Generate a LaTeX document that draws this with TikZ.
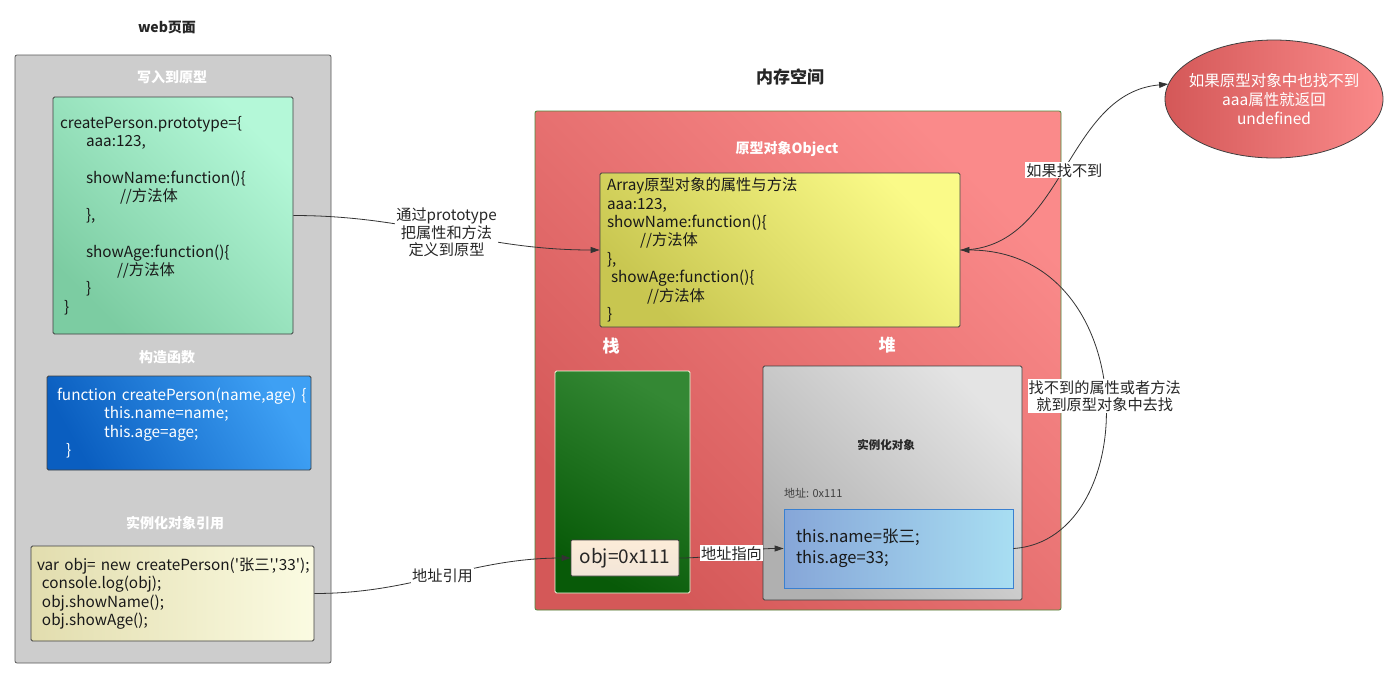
\documentclass[tikz,border=0pt]{standalone}
\usepackage{fontspec}
\setmainfont{Noto Sans CJK SC}[Ligatures=TeXOff]
\usetikzlibrary{arrows.meta,shapes.geometric}

\definecolor{panelgray}{HTML}{CDCDCD}
\definecolor{mintlight}{HTML}{B4F8D8}
\definecolor{mintdark}{HTML}{7CCCA2}
\definecolor{bluedark}{HTML}{0A5EC0}
\definecolor{bluelight}{HTML}{3EA0F4}
\definecolor{creamdark}{HTML}{E2DDAE}
\definecolor{creamlight}{HTML}{FBFBE2}
\definecolor{memdark}{HTML}{D45858}
\definecolor{memlight}{HTML}{FA8A8A}
\definecolor{memedge}{HTML}{4A8A3A}
\definecolor{yellowdark}{HTML}{C8C650}
\definecolor{yellowlight}{HTML}{FAFA88}
\definecolor{stackdark}{HTML}{085A08}
\definecolor{stacklight}{HTML}{348834}
\definecolor{heapdark}{HTML}{B0B0B0}
\definecolor{heaplight}{HTML}{E4E4E4}
\definecolor{instdark}{HTML}{86A6D8}
\definecolor{instlight}{HTML}{A8DEF2}
\definecolor{instedge}{HTML}{3A80D0}

\tikzset{
  panel/.style={draw=black!65, fill=panelgray, rounded corners=2pt, line width=0.8pt},
  codebox/.style={draw=black!75, rounded corners=1.5pt, line width=0.8pt, align=left,
    font=\fontsize{15.3}{18.4}\selectfont, inner ysep=0pt, text=black!90},
  heading/.style={font=\bfseries\fontsize{14}{16}\selectfont, text=white},
  lbl/.style={fill=white, inner sep=1pt, align=center, font=\fontsize{15.2}{17.5}\selectfont, text=black!85},
  conn/.style={draw=black!80, line width=0.8pt},
  arr/.style={conn, -{Triangle[length=9pt,width=6pt]}}
}

\begin{document}
\begin{tikzpicture}[x=1pt,y=-1pt]
  \useasboundingbox[fill=white] (0,0) rectangle (1400,678);

  % Web page panel
  \node[font=\bfseries\fontsize{14}{16}\selectfont, text=black!85] (webtitle) at (167,27) {web页面};
  \node[panel, minimum width=316, minimum height=608] (web) at (173,359) {};

  \node[heading] (protohead) at (172,77) {写入到原型};
  \node[codebox, top color=mintlight, bottom color=mintdark, shading angle=-45,
        minimum height=237, text width=226, inner xsep=7] (proto) at (173,215.5)
    {createPerson.prototype=\{\\
     \hspace*{26pt}aaa:123,\\[18.4pt]
     \hspace*{26pt}showName:function()\{\\
     \hspace*{60pt}//方法体\\
     \hspace*{26pt}\},\\[18.4pt]
     \hspace*{26pt}showAge:function()\{\\
     \hspace*{57pt}//方法体\\
     \hspace*{26pt}\}\\
     \hspace*{4pt}\}};

  \node[heading] (ctorhead) at (167,357) {构造函数};
  \node[codebox, top color=bluelight, bottom color=bluedark, shading angle=-60, text=white,
        minimum height=94, text width=258, inner xsep=3] (ctor) at (179,423)
    {\hspace*{7pt}function createPerson(name,age) \{\\
     \hspace*{54pt}this.name=name;\\
     \hspace*{54pt}this.age=age;\\
     \hspace*{16pt}\}};

  \node[heading] (refhead) at (175,523) {实例化对象引用};
  \node[codebox, left color=creamdark, right color=creamlight,
        minimum height=95, text width=277, inner xsep=3] (ref) at (172.5,593.5)
    {\hspace*{3pt}var obj= new createPerson('张三','33');\\
     \hspace*{8pt}console.log(obj);\\
     \hspace*{8pt}obj.showName();\\
     \hspace*{8pt}obj.showAge();};

  % Memory space
  \node[font=\bfseries\fontsize{17}{19}\selectfont, text=black!85] (memtitle) at (790,77) {内存空间};
  \node[draw=memedge, rounded corners=2pt, line width=0.8pt, top color=memlight, bottom color=memdark,
        shading angle=-45, minimum width=526, minimum height=499] (mem) at (798,360.5) {};

  \node[heading] (objhead) at (787,149) {原型对象Object};
  \node[codebox, top color=yellowlight, bottom color=yellowdark, shading angle=-45,
        minimum height=154, text width=346, inner xsep=7] (protoobj) at (780,250)
    {Array原型对象的属性与方法\\
     aaa:123,\\
     showName:function()\{\\
     \hspace*{33pt}//方法体\\
     \},\\
     \hspace*{4pt}showAge:function()\{\\
     \hspace*{40pt}//方法体\\
     \}};

  % Stack
  \node[heading, font=\bfseries\fontsize{17}{19}\selectfont] (stackhead) at (611,346) {栈};
  \node[draw=creamlight, rounded corners=1.5pt, line width=0.8pt, top color=stacklight, bottom color=stackdark,
        shading angle=-30, minimum width=135, minimum height=222] (stack) at (622.5,482) {};
  \node[draw=black!75, rounded corners=1pt, line width=0.8pt, top color=white!40!creamdark!60!orange!30, bottom color=white!80!brown,
        minimum width=108, minimum height=36, font=\fontsize{19}{21}\selectfont, text=black!85] (objvar) at (625,558) {obj=0x111};

  % Heap
  \node[heading, font=\bfseries\fontsize{17}{19}\selectfont] (heaphead) at (887,345) {堆};
  \node[draw=black!75, rounded corners=1.5pt, line width=0.8pt, top color=heaplight, bottom color=heapdark,
        shading angle=-45, minimum width=259, minimum height=234] (heap) at (892.5,483) {};
  \node[font=\bfseries\fontsize{11.5}{13}\selectfont, text=black!85] (insthead) at (886,445) {实例化对象};
  \node[anchor=west, font=\fontsize{11}{13}\selectfont, text=black!75, inner sep=0pt] (addr) at (784,493) {地址: 0x111};
  \node[codebox, draw=instedge, left color=instdark, right color=instlight, rounded corners=0pt,
        font=\fontsize{16.5}{21}\selectfont, minimum height=79, text width=205, inner xsep=12] (inst) at (898.5,548.5)
    {this.name=张三;\\
     this.age=33;};

  % Result
  \node[ellipse, draw=black!75, line width=0.8pt, left color=memdark, right color=memlight,
        inner sep=0pt, minimum width=218, minimum height=118] (undef) at (1274,99) {};
  \node[align=center, text=white, font=\fontsize{15.5}{19}\selectfont] (undeftext) at (undef.center)
    {如果原型对象中也找不到\\aaa属性就返回\\undefined};

  % Connectors
  \draw[arr] (proto.east) to[out=0,in=180]
    node[lbl] {通过prototype\\把属性和方法\\定义到原型} (protoobj.west);
  \draw[arr] (ref.east) to[out=0,in=180] node[lbl] {地址引用} (objvar.west);
  \draw[arr] (objvar.east) to[out=0,in=180] node[lbl] {地址指向} (inst.west);
  \draw[arr] (inst.east) .. controls (1144,540) and (1144,250) ..
    node[lbl] {找不到的属性或者方法\\就到原型对象中去找} (protoobj.east);
  \draw[arr] (protoobj.east) to[out=0,in=185] node[lbl] {如果找不到} (undef.172);
\end{tikzpicture}
\end{document}
